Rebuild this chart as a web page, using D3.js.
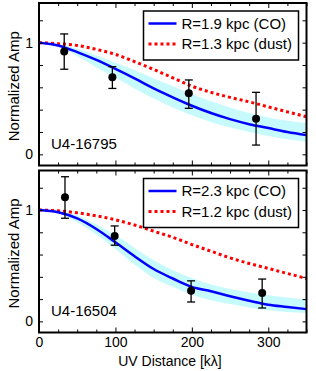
<!DOCTYPE html>
<html><head><meta charset="utf-8">
<script src="https://cdn.jsdelivr.net/npm/d3@7"></script>
<style>body{margin:0;background:#fff}svg{display:block}text{font-family:"Liberation Sans",Arial,sans-serif}</style>
</head><body><svg id="c" width="316" height="371"></svg>
<script>
// ---- data ----
const uGrid = [0,25,50,75,100,125,150,175,200,225,250,275,300,325,350];
// panel 1: U4-16795
const p1Name = "U4-16795";
const p1Legend = ["R=1.9 kpc (CO)", "R=1.3 kpc (dust)"];
const p1ptsU   = [33, 96, 196, 284];
const p1ptsV   = [0.92, 0.69, 0.547, 0.319];
const p1ptsLo  = [0.762, 0.59, 0.412, 0.083];
const p1ptsHi  = [1.078, 0.785, 0.666, 0.555];
const p1CO     = [1,0.975,0.915,0.845,0.765,0.68,0.59,0.51,0.435,0.37,0.315,0.27,0.235,0.2,0.172];
const p1Dust   = [1,0.99,0.975,0.94,0.895,0.83,0.76,0.685,0.61,0.555,0.51,0.47,0.425,0.38,0.337];
const p1BandHi = [1,0.985,0.945,0.885,0.82,0.755,0.68,0.61,0.54,0.475,0.42,0.37,0.33,0.3,0.28];
const p1BandLo = [1,0.965,0.88,0.78,0.685,0.59,0.5,0.42,0.35,0.29,0.24,0.2,0.165,0.135,0.113];
// panel 2: U4-16504
const p2Name = "U4-16504";
const p2Legend = ["R=2.3 kpc (CO)", "R=1.2 kpc (dust)"];
const p2ptsU   = [34, 99, 199, 292];
const p2ptsV   = [1.114, 0.767, 0.275, 0.254];
const p2ptsLo  = [0.926, 0.684, 0.174, 0.12];
const p2ptsHi  = [1.299, 0.857, 0.364, 0.38];
const p2CO     = [1,0.98,0.925,0.83,0.71,0.585,0.47,0.385,0.31,0.27,0.225,0.185,0.15,0.13,0.11];
const p2Dust   = [1,0.993,0.975,0.948,0.912,0.865,0.81,0.755,0.69,0.63,0.57,0.52,0.475,0.43,0.385];
const p2BandHi = [1,0.99,0.95,0.87,0.775,0.66,0.55,0.46,0.39,0.33,0.29,0.26,0.235,0.215,0.195];
const p2BandLo = [1,0.97,0.89,0.78,0.65,0.51,0.39,0.31,0.24,0.19,0.155,0.125,0.1,0.085,0.075];
const xTicks = [0,100,200,300];
const yTicks = [0,1];
const xDomain = [0,350];
const yDomain = [-0.1,1.355];

// ---- drawing ----
const svg = d3.select("#c");
const X0 = 39, X1 = 306.5;
const x = d3.scaleLinear().domain(xDomain).range([X0, X1]);

function panel(top, bottom, P, showX) {
  const y = d3.scaleLinear().domain(yDomain).range([bottom, top]);
  const g = svg.append("g");
  const cid = "clip" + Math.round(top);
  svg.append("clipPath").attr("id", cid).append("rect")
    .attr("x", X0).attr("y", top).attr("width", X1 - X0).attr("height", bottom - top);
  const pg = g.append("g").attr("clip-path", `url(#${cid})`);
  const band = uGrid.map((u,i)=>({u, lo:P.bandLo[i], hi:P.bandHi[i]}));
  pg.append("path").datum(band)
    .attr("d", d3.area().x(d=>x(d.u)).y0(d=>y(d.lo)).y1(d=>y(d.hi)).curve(d3.curveMonotoneX))
    .attr("fill", "#c6fafc");
  const line = d3.line().x(d=>x(d.u)).y(d=>y(d.v)).curve(d3.curveMonotoneX);
  pg.append("path").datum(uGrid.map((u,i)=>({u, v:P.dust[i]})))
    .attr("d", line).attr("fill","none").attr("stroke","#ff0000").attr("stroke-width",3)
    .attr("stroke-dasharray","3,3");
  pg.append("path").datum(uGrid.map((u,i)=>({u, v:P.co[i]})))
    .attr("d", line).attr("fill","none").attr("stroke","#0000ff").attr("stroke-width",2.5);
  // error bars & points
  const pts = P.u.map((u,i)=>({u, v:P.v[i], lo:P.lo[i], hi:P.hi[i]}));
  const eb = g.append("g").attr("stroke","#000").attr("stroke-width",1.3);
  pts.forEach(d=>{
    eb.append("line").attr("x1",x(d.u)).attr("x2",x(d.u)).attr("y1",y(d.lo)).attr("y2",y(d.hi));
    eb.append("line").attr("x1",x(d.u)-4).attr("x2",x(d.u)+4).attr("y1",y(d.lo)).attr("y2",y(d.lo));
    eb.append("line").attr("x1",x(d.u)-4).attr("x2",x(d.u)+4).attr("y1",y(d.hi)).attr("y2",y(d.hi));
  });
  g.selectAll("circle.pt").data(pts).enter().append("circle")
    .attr("cx",d=>x(d.u)).attr("cy",d=>y(d.v)).attr("r",4).attr("fill","#000");
  // axes with inward ticks
  const minorY = d3.range(-0.0, 1.3, 0.2);
  const ax = g.append("g");
  ax.append("g").attr("transform",`translate(${X0},0)`)
    .call(d3.axisRight(y).tickValues(minorY).tickSize(4).tickFormat(""));
  ax.append("g").attr("transform",`translate(${X1},0)`)
    .call(d3.axisLeft(y).tickValues(minorY).tickSize(4).tickFormat(""));
  const minorX = d3.range(0, 351, 25).filter(v=>v%100!==0);
  ax.append("g").attr("transform",`translate(0,${bottom})`)
    .call(d3.axisTop(x).tickValues(minorX).tickSize(3).tickFormat(""));
  ax.append("g").attr("transform",`translate(0,${bottom})`)
    .call(d3.axisTop(x).tickValues(xTicks).tickSize(5).tickFormat(""));
  ax.append("g").attr("transform",`translate(0,${top})`)
    .call(d3.axisBottom(x).tickValues(minorX).tickSize(3).tickFormat(""));
  ax.append("g").attr("transform",`translate(0,${top})`)
    .call(d3.axisBottom(x).tickValues(xTicks).tickSize(5).tickFormat(""));
  ax.selectAll(".domain").remove();
  ax.selectAll("line").attr("stroke","#000").attr("stroke-width",1);
  // y tick labels
  g.append("g").attr("transform",`translate(${X0},0)`)
    .call(d3.axisLeft(y).tickValues(yTicks).tickSize(0).tickPadding(6).tickFormat(d3.format("d")))
    .call(s=>{s.select(".domain").remove(); s.selectAll("text").attr("font-size",14).attr("fill","#000")
      .attr("font-family","Liberation Sans, Arial, sans-serif");});
  if (showX) {
    g.append("g").attr("transform",`translate(0,${bottom})`)
      .call(d3.axisBottom(x).tickValues(xTicks).tickSize(0).tickPadding(5).tickFormat(d3.format("d")))
      .call(s=>{s.select(".domain").remove(); s.selectAll("text").attr("font-size",14).attr("fill","#000")
        .attr("font-family","Liberation Sans, Arial, sans-serif");});
  }
  // frame
  g.append("rect").attr("x",X0).attr("y",top).attr("width",X1-X0).attr("height",bottom-top)
    .attr("fill","none").attr("stroke","#000").attr("stroke-width",2);
  // y label
  g.append("text").attr("transform",`translate(19,${(top+bottom)/2 + 2}) rotate(-90)`)
    .attr("text-anchor","middle").attr("font-size",15).text("Normalized Amp");
  // name
  g.append("text").attr("x",51).attr("y",bottom-16.5).attr("font-size",15).text(P.name);
  // legend
  const lg = g.append("g").attr("transform",`translate(143.5,${top+8})`);
  lg.append("rect").attr("width",155).attr("height",49).attr("fill","#fff")
    .attr("stroke","#000").attr("stroke-width",1.5);
  lg.append("line").attr("x1",5).attr("x2",33).attr("y1",12.5).attr("y2",12.5)
    .attr("stroke","#0000ff").attr("stroke-width",2.5);
  lg.append("line").attr("x1",5).attr("x2",33).attr("y1",33).attr("y2",33)
    .attr("stroke","#ff0000").attr("stroke-width",3).attr("stroke-dasharray","3,3");
  lg.append("text").attr("x",38).attr("y",17.5).attr("font-size",15).text(P.legend[0]);
  lg.append("text").attr("x",38).attr("y",38).attr("font-size",15).text(P.legend[1]);
}

panel(3, 165.5, {name:p1Name, legend:p1Legend, u:p1ptsU, v:p1ptsV, lo:p1ptsLo, hi:p1ptsHi,
  co:p1CO, dust:p1Dust, bandHi:p1BandHi, bandLo:p1BandLo}, false);
panel(170.5, 332.5, {name:p2Name, legend:p2Legend, u:p2ptsU, v:p2ptsV, lo:p2ptsLo, hi:p2ptsHi,
  co:p2CO, dust:p2Dust, bandHi:p2BandHi, bandLo:p2BandLo}, true);

svg.append("text").attr("x",170).attr("y",366).attr("text-anchor","middle")
  .attr("font-size",14).text("UV Distance [kλ]");
</script></body></html>
